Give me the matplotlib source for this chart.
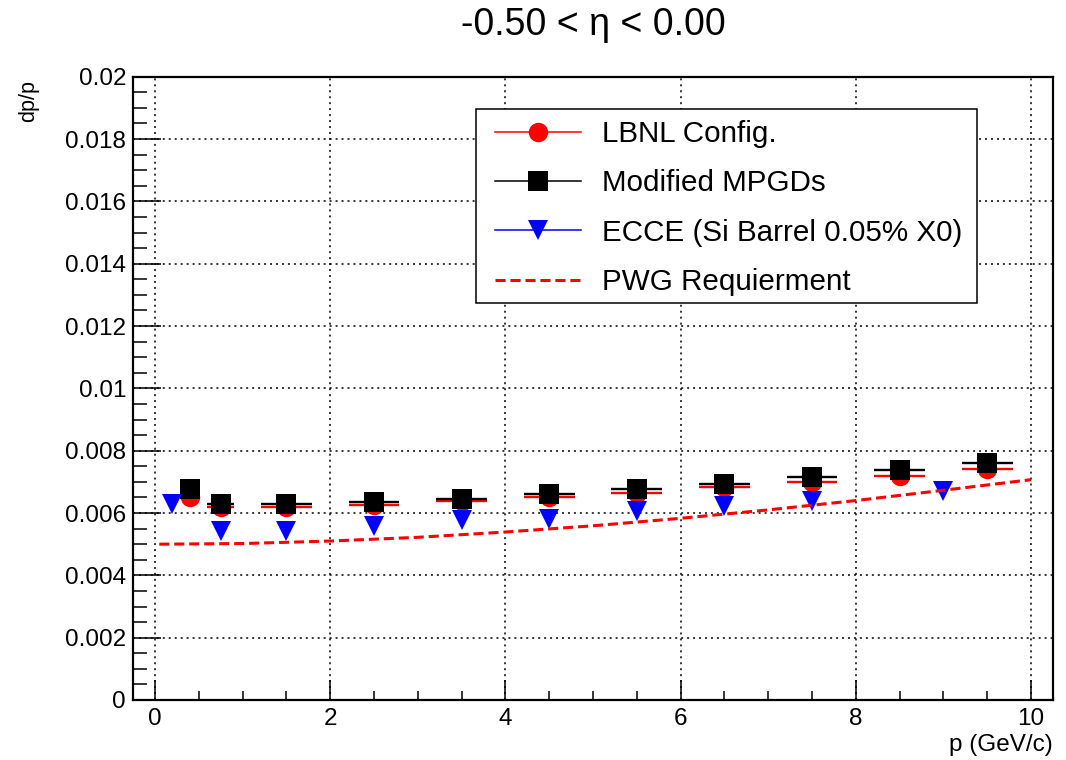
import matplotlib
matplotlib.use("Agg")
import matplotlib.pyplot as plt
from matplotlib.lines import Line2D
from matplotlib.patches import Rectangle
from matplotlib.ticker import MultipleLocator, FuncFormatter

plt.rcParams["font.family"] = ["Liberation Sans", "DejaVu Sans"]

# LBNL config and modified MPGDs share the same momentum bins
p_bins = [0.4, 0.75, 1.5, 2.5, 3.5, 4.5, 5.5, 6.5, 7.5, 8.5, 9.5]
p_halfwidth = [0.1, 0.15, 0.29, 0.29, 0.29, 0.29, 0.29, 0.29, 0.29, 0.29, 0.29]
dpp_lbnl = [0.0065, 0.0062, 0.0062, 0.00625, 0.0064, 0.0065, 0.00664, 0.00682, 0.00701, 0.00719, 0.00741]
dpp_mpgd = [0.00676, 0.0063, 0.00628, 0.00636, 0.00646, 0.00661, 0.00676, 0.00694, 0.00716, 0.00737, 0.0076]

p_ecce = [0.2, 0.75, 1.5, 2.5, 3.5, 4.5, 5.5, 6.5, 7.5, 9.0]
dpp_ecce = [0.0063, 0.00543, 0.00543, 0.00559, 0.00577, 0.00582, 0.00606, 0.00621, 0.00637, 0.00671]

p_pwg = [0.05, 1, 2, 3, 4, 5, 6, 7, 8, 9, 10]
dpp_pwg = [0.0050, 0.00502, 0.0051, 0.00522, 0.00539, 0.00559, 0.00583, 0.0061, 0.0064, 0.00673, 0.00707]

W, H = 1066, 760
fig = plt.figure(figsize=(W / 100, H / 100), dpi=100)
ax = fig.add_axes([133 / W, 60 / H, 920 / W, 623.3 / H])

ax.errorbar(p_bins, dpp_lbnl, xerr=p_halfwidth, fmt="o", color="red", ms=14, mew=0,
            elinewidth=1.7, capsize=3, capthick=1.7, zorder=2)
ax.errorbar(p_bins, dpp_mpgd, xerr=p_halfwidth, fmt="s", color="black", ms=14, mew=0,
            elinewidth=1.7, capsize=3, capthick=1.7, zorder=2.1)
ax.plot(p_ecce, dpp_ecce, "v", color="blue", ms=14, mew=0, zorder=2.2)
ax.plot(p_pwg, dpp_pwg, color="red", lw=2.2, linestyle=(0, (3.3, 1.6)), zorder=3)

ax.set_xlim(-0.25, 10.25)
ax.set_ylim(0, 0.02)
ax.xaxis.set_major_locator(MultipleLocator(2))
ax.xaxis.set_minor_locator(MultipleLocator(0.5))
ax.yaxis.set_major_locator(MultipleLocator(0.002))
ax.yaxis.set_minor_locator(MultipleLocator(0.0005))
ax.yaxis.set_major_formatter(FuncFormatter(lambda v, _: f"{round(v, 6):g}"))

ax.grid(True, which="major", color="black", lw=1.1, linestyle=(0, (1.3, 2.6)))
ax.set_axisbelow(True)
for s in ax.spines.values():
    s.set_linewidth(1.6)
ax.tick_params(which="both", direction="in", top=False, right=False, width=1.1, labelsize=17.5)
ax.tick_params(axis="x", which="major", length=14.4, pad=6)
ax.tick_params(axis="x", which="minor", length=6.5)
ax.tick_params(axis="y", which="major", length=20, pad=5)
ax.tick_params(axis="y", which="minor", length=10)

fig.text(593 / W, 1 - 25 / H, "-0.50 < η < 0.00", ha="center", va="center", fontsize=27)
fig.text(29 / W, 1 - 80 / H, "dp/p", rotation=90, ha="center", va="top", fontsize=15.5)
fig.text(1053 / W, 1 - 745 / H, "p (GeV/c)", ha="right", va="center", fontsize=17.5)

# legend box
fig.add_artist(Rectangle((476 / W, 1 - 303 / H), 501 / W, 194 / H, transform=fig.transFigure,
                         facecolor="white", edgecolor="black", lw=1.1, zorder=4))
handles = [
    Line2D([], [], color="red", lw=1.1, marker="o", ms=14, mew=0),
    Line2D([], [], color="black", lw=1.1, marker="s", ms=14, mew=0),
    Line2D([], [], color="blue", lw=1.1, marker="v", ms=14, mew=0),
    Line2D([], [], color="red", lw=2.2, linestyle=(0, (3.3, 1.6))),
]
labels = ["LBNL Config.", "Modified MPGDs", "ECCE (Si Barrel 0.05% X0)", "PWG Requierment"]
leg = fig.legend(handles, labels, loc="upper left", bbox_to_anchor=(495 / W, 1 - 120 / H),
                 frameon=False, fontsize=21.3, borderpad=0, borderaxespad=0, handlelength=2.9,
                 handletextpad=0.7, labelspacing=0.72, numpoints=1)
leg.set_zorder(5)

fig.savefig("out.png", dpi=100)
